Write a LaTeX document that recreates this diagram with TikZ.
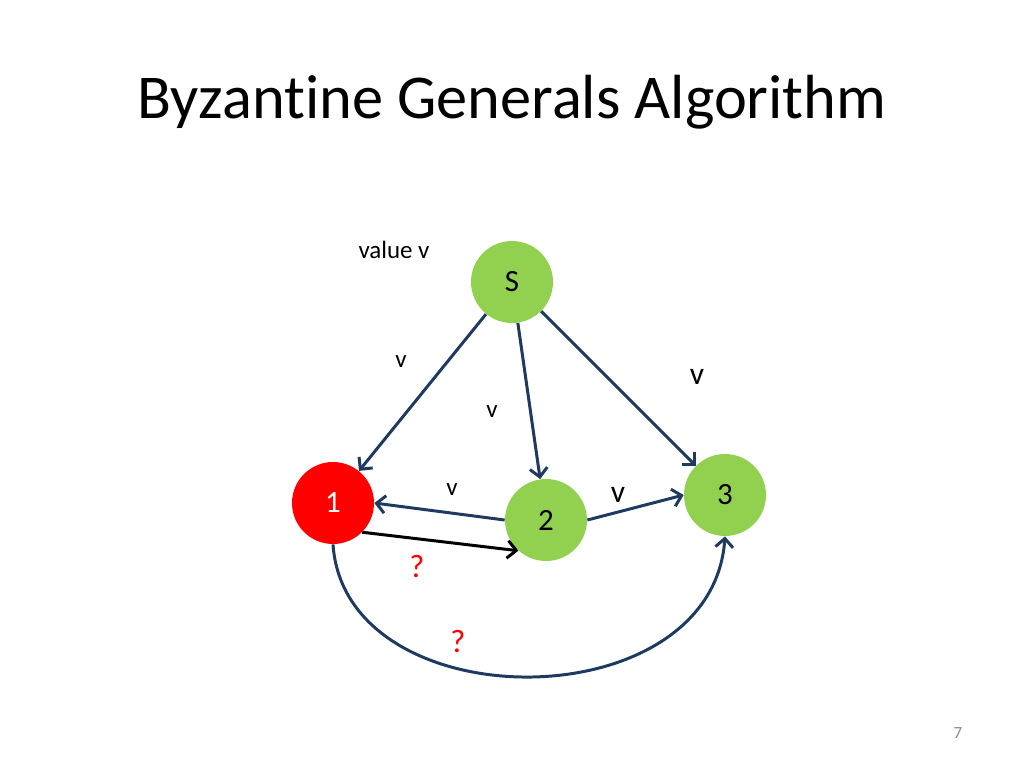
\documentclass[tikz,border=0pt]{standalone}
\usepackage{fontspec}
\setmainfont{Carlito}[Ligatures=NoCommon]
\usetikzlibrary{arrows.meta}
\definecolor{nodeGreen}{HTML}{92D050}
\definecolor{nodeRed}{HTML}{FF0000}
\definecolor{edgeBlue}{HTML}{1F3A60}
\definecolor{pageGray}{HTML}{8C8C8C}

\begin{document}
\begin{tikzpicture}[x=0.02cm, y=-0.02cm,
    general/.style={circle, inner sep=0pt, minimum size=1.64cm, font=\fontsize{17.6}{20}\selectfont},
    arr/.style={-{Straight Barb[length=5pt, width=10pt]}, line width=1.7pt, edgeBlue},
    lbl/.style={font=\fontsize{14.2}{16}\selectfont},
    biglbl/.style={font=\fontsize{18}{20}\selectfont},
    ask/.style={font=\fontsize{18.5}{20}\selectfont, nodeRed},
  ]
    \useasboundingbox (0,0) rectangle (1024,768);

    \node[font=\fontsize{35.5}{40}\selectfont] (title) at (512,102) {Byzantine Generals Algorithm};

    \node[general, fill=nodeGreen] (gS) at (512,282) {S};
    \node[general, fill=nodeRed, text=white] (g1) at (333,503) {1};
    \node[general, fill=nodeGreen] (g2) at (546,520) {2};
    \node[general, fill=nodeGreen] (g3) at (725,495) {3};

    \draw[arr] (gS) -- (g1);
    \draw[arr] (gS) -- (g2);
    \draw[arr] (gS) -- (g3);
    \draw[arr] (g2.west) -- (g1.east);
    \draw[arr] (g2.east) -- (g3.west);
    \draw[arr, black] (g1.-45) -- (g2.228);
    \draw[arr] (g1.south) .. controls (345,722) and (712,722) .. (g3.south);

    \node[lbl] (valueV) at (394,250) {value v};
    \node[lbl] (vS1) at (401,362) {v};
    \node[lbl] (vS2) at (492,412) {v};
    \node[biglbl] (vS3) at (697,377) {v};
    \node[lbl] (v21) at (452,490) {v};
    \node[biglbl] (v23) at (618,495) {v};
    \node[ask] (q12) at (417,566) {?};
    \node[ask] (q13) at (458,641) {?};

    \node[font=\fontsize{9.7}{11}\selectfont, pageGray] (page) at (958,733) {7};
  \end{tikzpicture}
\end{document}
